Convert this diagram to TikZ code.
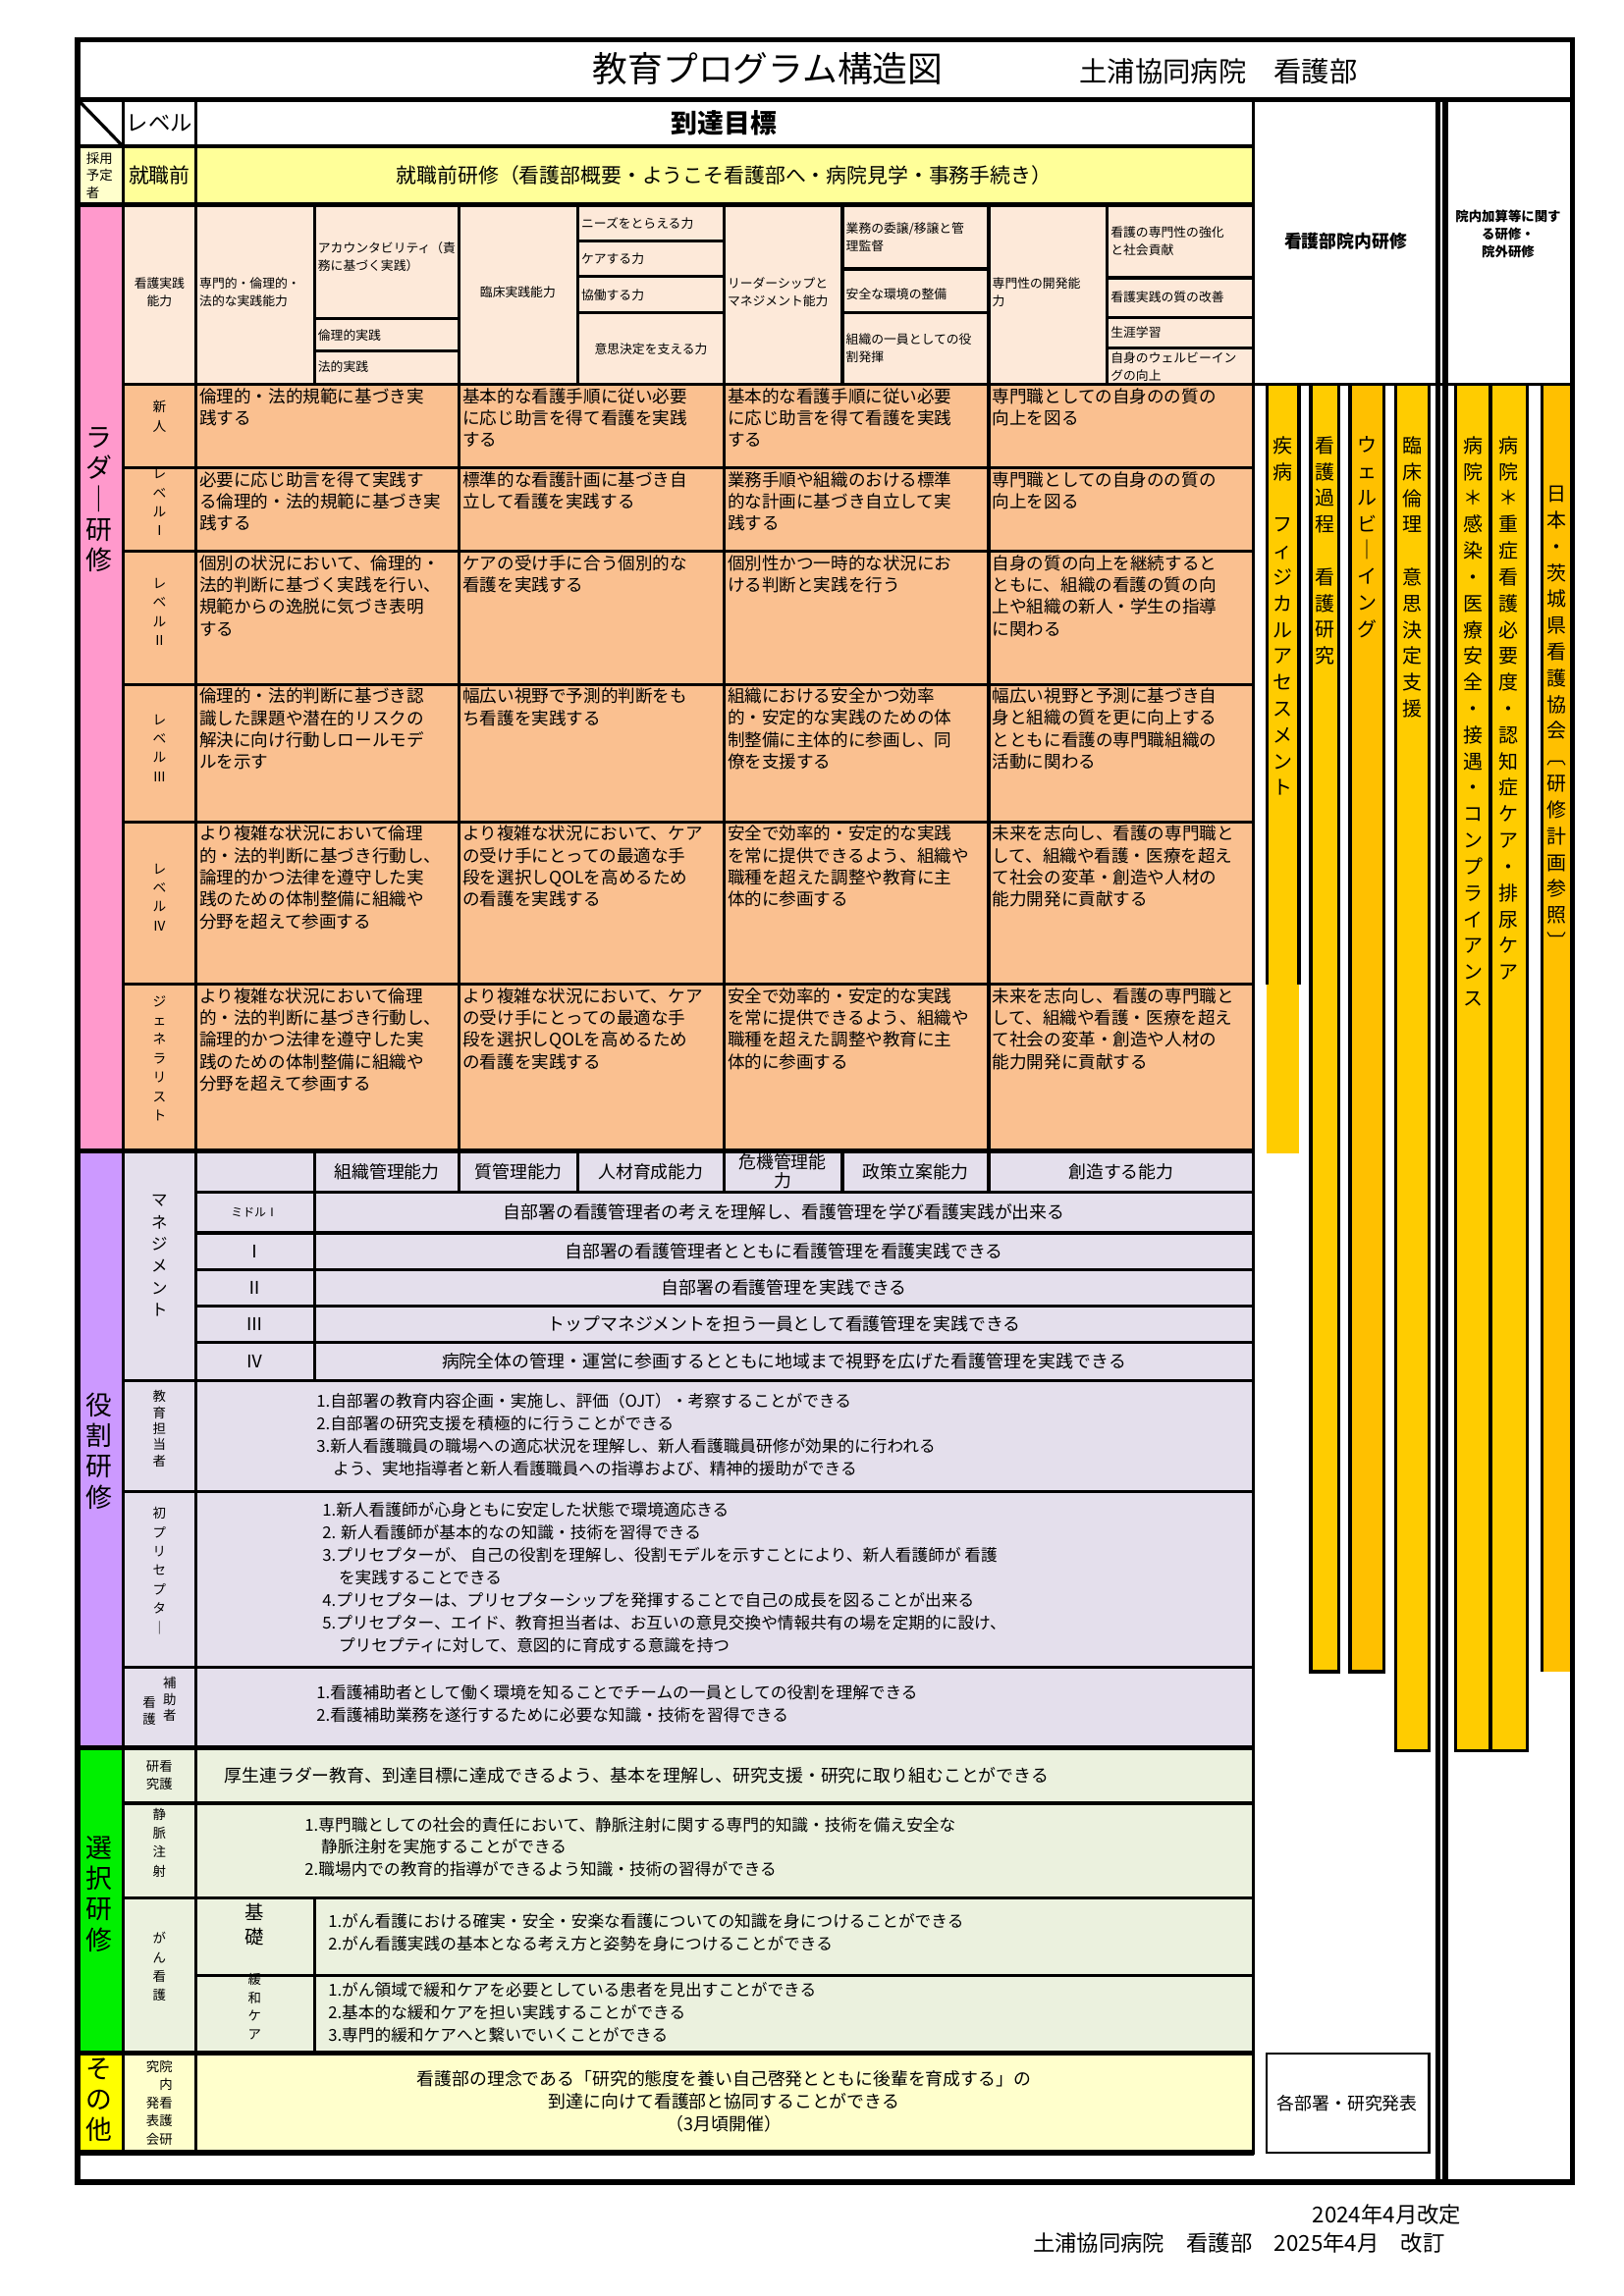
\documentclass[tikz,border=0pt]{standalone}
\usepackage{fontspec}
\setmainfont{Noto Sans CJK JP}
\ExplSyntaxOn
\NewDocumentCommand\vt{m}{\tl_map_inline:nn{#1}{##1\\}}
\ExplSyntaxOff
\newcommand\fs[2]{\fontsize{#1}{#2}\selectfont}
\newcounter{nc}
\newcommand\tx[3][]{\stepcounter{nc}\node[txt,#1] (n\arabic{nc}) at (#2) {#3};}
\newcommand\bx[5]{\draw[ln,fill=#5] (#1,#2) rectangle (#3,#4);}
\definecolor{pinkc}{HTML}{FF99CC}
\definecolor{peach}{HTML}{FDE9D9}
\definecolor{orng}{HTML}{FAC090}
\definecolor{purp}{HTML}{CC99FF}
\definecolor{lav}{HTML}{E4DFEC}
\definecolor{grn}{HTML}{00F000}
\definecolor{lgrn}{HTML}{EBF1DE}
\definecolor{ylw}{HTML}{FFFF00}
\definecolor{lylw}{HTML}{FFFFCC}
\definecolor{ylwrow}{HTML}{FFFF99}
\definecolor{barA}{HTML}{FFCC00}
\definecolor{barB}{HTML}{FFC000}
\tikzset{
 ln/.style={line width=1.1pt},
 thn/.style={line width=0.8pt},
 thk/.style={line width=1.8pt},
 txt/.style={inner sep=0pt,font=\fs{5.9}{7.5}},
 lad/.style={anchor=north west,align=left,font=\fs{5.9}{7.5}},
 cmp/.style={align=left,font=\fs{4.3}{6}},
 vlab/.style={anchor=center,align=center,font=\fs{4.6}{6.5}},
 big/.style={anchor=north,align=center,font=\fs{9}{10.5}},
 bar/.style={anchor=north,align=center,font=\fs{6.7}{9}},
 body/.style={anchor=north west,align=left,font=\fs{5.6}{7.7}},
}
\begin{document}
\begin{tikzpicture}[x=0.5pt,y=-0.5pt]
\useasboundingbox (0,0) rectangle (1110,1570);
\fill[white] (0,0) rectangle (1110,1570);
% ---------- title
\tx[font=\fs{12}{14}]{525,47}{教育プログラム構造図}
\tx[font=\fs{9.5}{11}]{833,49}{土浦協同病院　看護部}
% ---------- header rows
\draw[ln] (53,68) rectangle (84,100); \draw[ln] (53,68) -- (84,100);
\bx{84}{68}{134}{100}{white}
\tx[font=\fs{7.5}{8}]{109,84}{レベル}
\bx{134}{68}{857}{100}{white}
\tx[font=\fs{9}{10}\bfseries]{495,84}{到達目標}
\bx{53}{100}{84}{140}{lylw}
\tx[align=left,font=\fs{4.5}{6}]{68,120}{採用\\予定\\者}
\bx{84}{100}{134}{140}{ylwrow}
\tx[font=\fs{7}{8}]{109,120}{就職前}
\bx{134}{100}{857}{140}{ylwrow}
\tx[font=\fs{7}{8}]{495,120}{就職前研修（看護部概要・ようこそ看護部へ・病院見学・事務手続き）}
% right header
\draw[ln] (857,68) rectangle (983,263);
\tx[font=\fs{6}{7}\bfseries]{920,165}{看護部院内研修}
\draw[ln] (988,68) rectangle (1075,263);
\tx[align=center,font=\fs{4.5}{6}\bfseries]{1031,160}{院内加算等に関す\\る研修・\\院外研修}
% ---------- competency header
\bx{84}{140}{134}{263}{peach}
\tx[cmp,align=center]{109,200}{看護実践\\能力}
\bx{134}{140}{215}{263}{peach}
\tx[cmp,anchor=west]{136,200}{専門的・倫理的・\\法的な実践能力}
\bx{215}{140}{314}{218}{peach}
\tx[cmp,anchor=north west]{217,165}{アカウンタビリティ（責\\務に基づく実践）}
\bx{215}{218}{314}{240}{peach}
\tx[cmp,anchor=west]{217,229}{倫理的実践}
\bx{215}{240}{314}{263}{peach}
\tx[cmp,anchor=west]{217,251}{法的実践}
\bx{314}{140}{395}{263}{peach}
\tx[cmp]{354,200}{臨床実践能力}
\bx{395}{140}{495}{165}{peach}
\tx[cmp,anchor=west]{397,153}{ニーズをとらえる力}
\bx{395}{165}{495}{189}{peach}
\tx[cmp,anchor=west]{397,177}{ケアする力}
\bx{395}{189}{495}{214}{peach}
\tx[cmp,anchor=west]{397,202}{協働する力}
\bx{395}{214}{495}{263}{peach}
\tx[cmp]{445,239}{意思決定を支える力}
\bx{495}{140}{576}{263}{peach}
\tx[cmp,anchor=west]{497,200}{リーダーシップと\\マネジメント能力}
\bx{576}{140}{676}{184}{peach}
\tx[cmp,anchor=north west]{578,152}{業務の委譲/移譲と管\\理監督}
\bx{576}{184}{676}{214}{peach}
\tx[cmp,anchor=west]{578,201}{安全な環境の整備}
\bx{576}{214}{676}{263}{peach}
\tx[cmp,anchor=west]{578,238}{組織の一員としての役\\割発揮}
\bx{676}{140}{757}{263}{peach}
\tx[cmp,anchor=west]{678,200}{専門性の開発能\\力}
\bx{757}{140}{857}{190}{peach}
\tx[cmp,anchor=west]{759,165}{看護の専門性の強化\\と社会貢献}
\bx{757}{190}{857}{217}{peach}
\tx[cmp,anchor=west]{759,203}{看護実践の質の改善}
\bx{757}{217}{857}{238}{peach}
\tx[cmp,anchor=west]{759,227}{生涯学習}
\bx{757}{238}{857}{263}{peach}
\tx[cmp,anchor=west]{759,251}{自身のウェルビーイン\\グの向上}
% ---------- ladder
\bx{53}{140}{84}{787}{pinkc}
\tx[big]{68,292}{\vt{ラダ｜研修}}
\foreach \ya/\yb in {263/320,320/377,377/468,468/562,562/673,673/787}{
 \bx{84}{\ya}{134}{\yb}{orng}
 \bx{134}{\ya}{314}{\yb}{orng}
 \bx{314}{\ya}{495}{\yb}{orng}
 \bx{495}{\ya}{676}{\yb}{orng}
 \bx{676}{\ya}{857}{\yb}{orng}
}
\tx[vlab]{109,291}{\vt{新人}}
\tx[vlab]{109,350}{\vt{レベルⅠ}}
\tx[vlab]{109,425}{\vt{レベルⅡ}}
\tx[vlab]{109,518}{\vt{レベルⅢ}}
\tx[vlab]{109,620}{\vt{レベルⅣ}}
\tx[vlab]{109,730}{\vt{ジェネラリスト}}
% row 新人
\tx[lad]{136,265}{倫理的・法的規範に基づき実\\践する}
\tx[lad]{316,265}{基本的な看護手順に従い必要\\に応じ助言を得て看護を実践\\する}
\tx[lad]{497,265}{基本的な看護手順に従い必要\\に応じ助言を得て看護を実践\\する}
\tx[lad]{678,265}{専門職としての自身のの質の\\向上を図る}
% row I
\tx[lad]{136,322}{必要に応じ助言を得て実践す\\る倫理的・法的規範に基づき実\\践する}
\tx[lad]{316,322}{標準的な看護計画に基づき自\\立して看護を実践する}
\tx[lad]{497,322}{業務手順や組織のおける標準\\的な計画に基づき自立して実\\践する}
\tx[lad]{678,322}{専門職としての自身のの質の\\向上を図る}
% row II
\tx[lad]{136,379}{個別の状況において、倫理的・\\法的判断に基づく実践を行い、\\規範からの逸脱に気づき表明\\する}
\tx[lad]{316,379}{ケアの受け手に合う個別的な\\看護を実践する}
\tx[lad]{497,379}{個別性かつ一時的な状況にお\\ける判断と実践を行う}
\tx[lad]{678,379}{自身の質の向上を継続すると\\ともに、組織の看護の質の向\\上や組織の新人・学生の指導\\に関わる}
% row III
\tx[lad]{136,470}{倫理的・法的判断に基づき認\\識した課題や潜在的リスクの\\解決に向け行動しロールモデ\\ルを示す}
\tx[lad]{316,470}{幅広い視野で予測的判断をも\\ち看護を実践する}
\tx[lad]{497,470}{組織における安全かつ効率\\的・安定的な実践のための体\\制整備に主体的に参画し、同\\僚を支援する}
\tx[lad]{678,470}{幅広い視野と予測に基づき自\\身と組織の質を更に向上する\\とともに看護の専門職組織の\\活動に関わる}
% rows IV and generalist
\foreach \yy in {564,675}{
\tx[lad]{136,\yy}{より複雑な状況において倫理\\的・法的判断に基づき行動し、\\論理的かつ法律を遵守した実\\践のための体制整備に組織や\\分野を超えて参画する}
\tx[lad]{316,\yy}{より複雑な状況において、ケア\\の受け手にとっての最適な手\\段を選択しQOLを高めるため\\の看護を実践する}
\tx[lad]{497,\yy}{安全で効率的・安定的な実践\\を常に提供できるよう、組織や\\職種を超えた調整や教育に主\\体的に参画する}
\tx[lad]{678,\yy}{未来を志向し、看護の専門職と\\して、組織や看護・医療を超え\\て社会の変革・創造や人材の\\能力開発に貢献する}
}
% ---------- role training
\bx{53}{787}{84}{1195}{purp}
\tx[big]{68,952}{\vt{役割研修}}
\bx{84}{787}{134}{944}{lav}
\tx[vlab,font=\fs{5.5}{7.5}]{109,866}{\vt{マネジメント}}
\bx{134}{787}{215}{815}{lav}
\foreach \xa/\xb/\t in {215/314/組織管理能力,314/395/質管理能力,395/495/人材育成能力,576/676/政策立案能力,676/857/創造する能力}{
 \bx{\xa}{787}{\xb}{815}{lav}
 \tx[font=\fs{6}{7}]{{(\xa+\xb)/2},801}{\t}
}
\bx{495}{787}{576}{815}{lav}
\tx[align=center,font=\fs{6}{6.5}]{535,801}{危機管理能\\力}
\foreach \ya/\yb/\lv/\t in {815/843/{\fs{4}{5}ミドルⅠ}/自部署の看護管理者の考えを理解し、看護管理を学び看護実践が出来る,
 843/868/Ⅰ/自部署の看護管理者とともに看護管理を看護実践できる,
 868/893/Ⅱ/自部署の看護管理を実践できる,
 893/918/Ⅲ/トップマネジメントを担う一員として看護管理を実践できる,
 918/944/Ⅳ/病院全体の管理・運営に参画するとともに地域まで視野を広げた看護管理を実践できる}{
 \bx{134}{\ya}{215}{\yb}{lav}
 \bx{215}{\ya}{857}{\yb}{lav}
 \tx[font=\fs{6}{7}]{174,{(\ya+\yb)/2}}{\lv}
 \tx[font=\fs{6}{7}]{536,{(\ya+\yb)/2}}{\t}
}
% education
\bx{84}{944}{134}{1020}{lav}
\tx[vlab,font=\fs{4.5}{5.5}]{109,982}{\vt{教育担当者}}
\bx{134}{944}{857}{1020}{lav}
\tx[body]{216,952}{1.自部署の教育内容企画・実施し、評価（OJT）・考察することができる\\2.自部署の研究支援を積極的に行うことができる\\3.新人看護職員の職場への適応状況を理解し、新人看護職員研修が効果的に行われる\\　よう、実地指導者と新人看護職員への指導および、精神的援助ができる}
% preceptor
\bx{84}{1020}{134}{1140}{lav}
\tx[vlab,font=\fs{4.5}{6.5}]{109,1080}{\vt{初プリセプタ｜}}
\bx{134}{1020}{857}{1140}{lav}
\tx[body]{220,1027}{1.新人看護師が心身ともに安定した状態で環境適応きる\\2. 新人看護師が基本的なの知識・技術を習得できる\\3.プリセプターが、 自己の役割を理解し、役割モデルを示すことにより、新人看護師が 看護\\　を実践することできる\\4.プリセプターは、プリセプターシップを発揮することで自己の成長を図ることが出来る\\5.プリセプター、エイド、教育担当者は、お互いの意見交換や情報共有の場を定期的に設け、\\　プリセプティに対して、意図的に育成する意識を持つ}
% assistant
\bx{84}{1140}{134}{1195}{lav}
\tx[vlab,font=\fs{4.5}{5.5}]{102,1175}{\vt{看護}}
\tx[vlab,font=\fs{4.5}{5.5}]{116,1167}{\vt{補助者}}
\bx{134}{1140}{857}{1195}{lav}
\tx[body]{216,1152}{1.看護補助者として働く環境を知ることでチームの一員としての役割を理解できる\\2.看護補助業務を遂行するために必要な知識・技術を習得できる}
% ---------- selection training
\bx{53}{1195}{84}{1404}{grn}
\tx[big]{68,1255}{\vt{選択研修}}
\bx{84}{1195}{134}{1233}{lgrn}
\tx[vlab,font=\fs{4.5}{6}]{109,1214}{研看\\究護}
\bx{134}{1195}{857}{1233}{lgrn}
\tx[font=\fs{6}{7},anchor=west]{153,1214}{厚生連ラダー教育、到達目標に達成できるよう、基本を理解し、研究支援・研究に取り組むことができる}
\bx{84}{1233}{134}{1298}{lgrn}
\tx[vlab,font=\fs{4.5}{6.5}]{109,1266}{\vt{静脈注射}}
\bx{134}{1233}{857}{1298}{lgrn}
\tx[body]{208,1242}{1.専門職としての社会的責任において、静脈注射に関する専門的知識・技術を備え安全な\\　静脈注射を実施することができる\\2.職場内での教育的指導ができるよう知識・技術の習得ができる}
\bx{84}{1298}{134}{1404}{lgrn}
\tx[vlab,font=\fs{4.5}{6.5}]{109,1351}{\vt{がん看護}}
\bx{134}{1298}{215}{1351}{lgrn}
\tx[vlab,font=\fs{6.5}{8.5}]{174,1324}{\vt{基礎}}
\bx{134}{1351}{215}{1404}{lgrn}
\tx[vlab,font=\fs{4.5}{6.2}]{174,1378}{\vt{緩和ケア}}
\bx{215}{1298}{857}{1351}{lgrn}
\tx[body]{224,1308}{1.がん看護における確実・安全・安楽な看護についての知識を身につけることができる\\2.がん看護実践の基本となる考え方と姿勢を身につけることができる}
\bx{215}{1351}{857}{1404}{lgrn}
\tx[body]{224,1355}{1.がん領域で緩和ケアを必要としている患者を見出すことができる\\2.基本的な緩和ケアを担い実践することができる\\3.専門的緩和ケアへと繋いでいくことができる}
% ---------- other
\bx{53}{1404}{84}{1472}{ylw}
\tx[big]{68,1407}{\vt{その他}}
\bx{84}{1404}{134}{1472}{lylw}
\tx[vlab,font=\fs{4.5}{6.2}]{109,1438}{究院\\　内\\発看\\表護\\会研}
\bx{134}{1404}{857}{1472}{lylw}
\tx[align=center,font=\fs{6}{7.8}]{495,1437}{看護部の理念である「研究的態度を養い自己啓発とともに後輩を育成する」の\\到達に向けて看護部と協同することができる\\（3月頃開催）}
\draw[thn] (866,1404) rectangle (977,1472);
\tx[font=\fs{6}{7}]{921,1438}{各部署・研究発表}
% ---------- bars
\fill[barA] (866,263) rectangle (888,789);
\draw[ln] (866,263) -- (866,673) (888,263) -- (888,673);
\draw[ln,fill=barA] (896,263) rectangle (915,1143);
\draw[ln,fill=barB] (923,263) rectangle (946,1143);
\draw[ln,fill=barA] (954,263) rectangle (977,1197);
\draw[ln,fill=barA] (995,263) rectangle (1019,1197);
\draw[ln,fill=barA] (1019,263) rectangle (1044,1197);
\fill[barB] (1054,263) rectangle (1075,1143);
\draw[ln] (1054,263) -- (1054,1143);
\tx[bar]{877,298}{\vt{疾病~フィジカルアセスメント}}
\tx[bar]{905.5,298}{\vt{看護過程~看護研究}}
\tx[bar]{934.5,298}{\vt{ウェルビ｜イング}}
\tx[bar]{965.5,298}{\vt{臨床倫理~意思決定支援}}
\tx[bar]{1007,298}{\vt{病院＊感染・医療安全・接遇・コンプライアンス}}
\tx[bar]{1031.5,298}{\vt{病院＊重症看護必要度・認知症ケア・排尿ケア}}
\tx[bar]{1064.5,332}{\vt{日本・茨城県看護協会︹研修計画参照︺}}
% ---------- frame and major lines
\draw[thk] (983,68) -- (983,1492) (988,68) -- (988,1492);
\draw[ln] (857,263) -- (1075,263);
\draw[thk] (53,140) -- (857,140) (53,787) -- (857,787) (53,1195) -- (857,1195) (53,1404) -- (857,1404) (53,1472) -- (857,1472);
\draw[thk] (53,68) -- (1075,68);
\draw[thk] (53,27) rectangle (1075,1492);
% ---------- footer
\tx[font=\fs{7.5}{9}]{948,1514}{2024年4月改定}
\tx[font=\fs{7.5}{9}]{847,1534}{土浦協同病院　看護部　2025年4月　改訂}
\end{tikzpicture}
\end{document}
